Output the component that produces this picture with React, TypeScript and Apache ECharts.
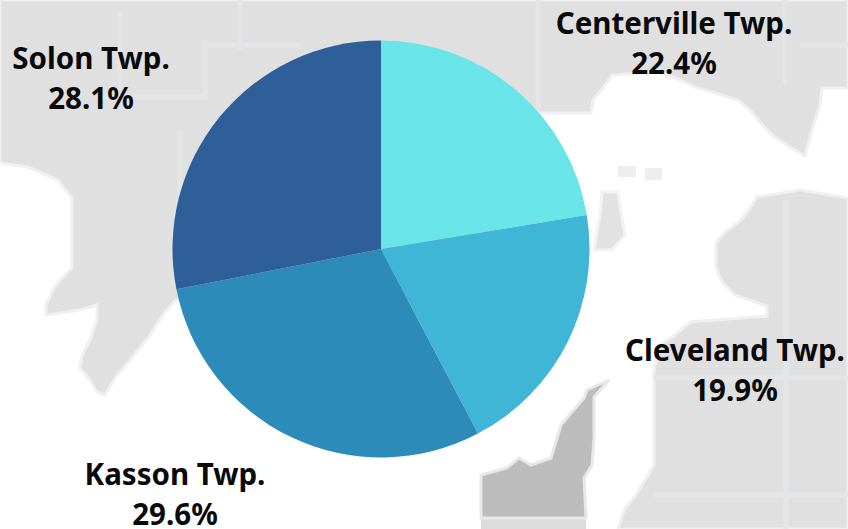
import React, { useEffect, useRef } from "react";
import * as echarts from "echarts";

const townships = ["Centerville Twp.", "Cleveland Twp.", "Kasson Twp.", "Solon Twp."];
const shares = [22.4, 19.9, 29.6, 28.1];
const sliceColors = ["#69e5ea", "#40b6d6", "#2d8bba", "#2e5f99"];
const labelCentres = [[674, 42], [735, 369], [175, 493], [91, 77]];

const grayNorth = [[0,0],[848,0],[848,88],[822,88],[820,105],[812,130],[805,156],[795,150],[772,135],[760,122],[750,110],[738,100],[712,92],[695,87],[680,80],[660,72],[612,75],[603,88],[593,100],[591,113],[500,113],[500,300],[176,300],[165,312],[150,335],[130,360],[115,378],[105,395],[97,392],[90,380],[80,368],[82,355],[90,340],[97,320],[97,305],[80,310],[46,315],[46,305],[54,288],[60,280],[72,268],[72,198],[58,180],[28,167],[0,163]];
const graySouthEast = [[848,198],[800,190],[757,197],[749,210],[741,220],[724,233],[716,243],[716,268],[722,282],[735,295],[767,306],[767,316],[690,322],[675,335],[660,345],[654,370],[654,465],[645,480],[636,495],[624,510],[618,529],[848,529]];
const grayIsland = [[602,192],[618,192],[620,205],[625,235],[612,250],[594,250],[600,215]];
const grayBits = [[[618,166],[636,166],[636,177],[618,177]],[[645,168],[662,168],[662,180],[645,180]]];
const darkPeninsula = [[481,475],[507,468],[519,458],[531,465],[551,458],[561,425],[584,398],[587,390],[609,380],[594,397],[594,438],[592,465],[584,478],[586,518],[481,518]];
const paleStrip = [[481,518],[586,518],[586,529],[481,529]];
const faintLines = [
  [[240,0],[240,50]],[[120,12],[120,90]],[[205,40],[205,100]],[[205,45],[300,45]],[[100,97],[205,97]],[[180,130],[180,195]],
  [[538,0],[538,110]],[[785,0],[785,85]],[[800,45],[848,45]],[[786,200],[786,529]],[[654,495],[848,495]],[[654,378],[848,378]],
];

const App = () => {
  const ref = useRef<HTMLDivElement>(null);
  useEffect(() => {
    document.body.style.margin = "0";
    const chart = echarts.init(ref.current!, null, { renderer: "svg" });
    const poly = (points: number[][], fill: string, stroke?: string) => ({
      type: "polygon",
      shape: { points },
      style: { fill, stroke: stroke ?? fill, lineWidth: stroke ? 3 : 0 },
      silent: true,
    });
    chart.setOption({
      animation: false,
      backgroundColor: "#ffffff",
      graphic: {
        elements: [
          poly(grayNorth, "#e0e0e1", "#f0f0f0"),
          poly(graySouthEast, "#e0e0e1", "#f0f0f0"),
          poly(grayIsland, "#e2e2e2", "#f3f3f3"),
          ...grayBits.map((b) => poly(b, "#eeeeee")),
          poly(paleStrip, "#dcdcdc"),
          poly(darkPeninsula, "#bcbcbc", "#e8e8e8"),
          ...faintLines.map((l) => ({
            type: "line",
            shape: { x1: l[0][0], y1: l[0][1], x2: l[1][0], y2: l[1][1] },
            style: { stroke: "#e4e5e7", lineWidth: 5 },
            silent: true,
          })),
        ],
      },
      series: [
        {
          type: "pie",
          center: [381, 249],
          radius: [0, 208.5],
          startAngle: 90,
          clockwise: true,
          percentPrecision: 1,
          avoidLabelOverlap: false,
          minShowLabelAngle: 0,
          emphasis: { disabled: true },
          label: {
            show: true,
            position: "outside",
            formatter: "{b}\n{d}%",
            color: "#0a0a0a",
            fontFamily: "Noto Sans",
            fontWeight: 700,
            fontSize: 29.5,
            lineHeight: 40,
            align: "center",
            overflow: "none",
          },
          labelLine: { show: false },
          labelLayout: (p: any) => ({
            x: labelCentres[p.dataIndex][0],
            y: labelCentres[p.dataIndex][1],
            align: "center",
            verticalAlign: "middle",
          }),
          data: townships.map((name, i) => ({
            name,
            value: shares[i],
            itemStyle: { color: sliceColors[i] },
          })),
        },
      ],
    });
    return () => chart.dispose();
  }, []);
  return <div ref={ref} style={{ width: 848, height: 529 }} />;
};

export default App;
